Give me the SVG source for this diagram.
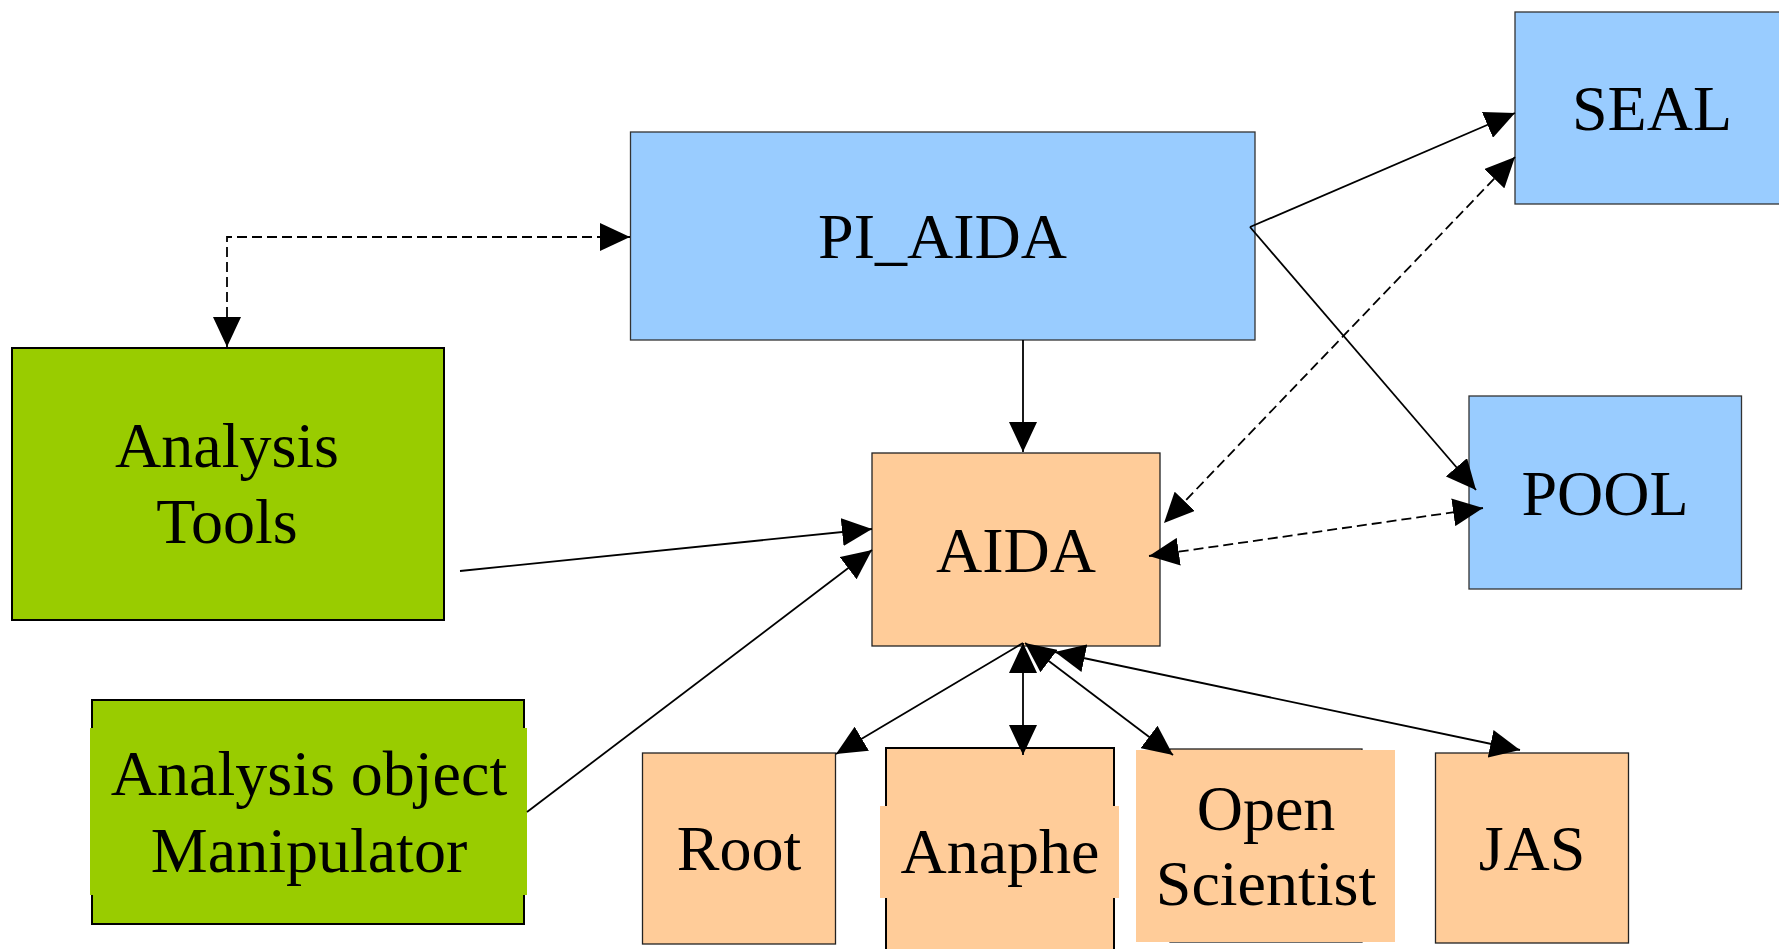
<svg xmlns="http://www.w3.org/2000/svg" width="1779" height="949" viewBox="0 0 1779 949">
<style>
.blue{fill:#99ccff;stroke:#333;stroke-width:1.3}
.green{fill:#99cc00;stroke:#000;stroke-width:2}
.orange{fill:#ffcc99;stroke:#222;stroke-width:1.3}
.bgG{fill:#99cc00;stroke:none}
.bgO{fill:#ffcc99;stroke:none}
text{font-family:"Liberation Serif","Times New Roman",serif;font-size:64px;fill:#000;text-anchor:middle}
.c{fill:none;stroke:#000;stroke-width:1.8}
.d{stroke-dasharray:10 5}
</style>
<defs>
<marker id="ah" viewBox="0 0 30 28" refX="30" refY="14" markerWidth="30" markerHeight="28" markerUnits="userSpaceOnUse" orient="auto-start-reverse">
<path d="M0,0 L30,14 L0,28 z" fill="#000"/>
</marker>
</defs>
<rect width="1779" height="949" fill="#fff"/>
<g id="pi_aida">
<rect class="blue" x="630.5" y="132" width="624.5" height="208"/>
<text x="942.5" y="258">PI_AIDA</text>
</g>
<g id="seal">
<rect class="blue" x="1515" y="12" width="274" height="192"/>
<text x="1652" y="130">SEAL</text>
</g>
<g id="pool">
<rect class="blue" x="1469" y="396" width="272.5" height="193"/>
<text x="1605" y="515">POOL</text>
</g>
<g id="aida">
<rect class="orange" x="872" y="453" width="288" height="193"/>
<text x="1016" y="572">AIDA</text>
</g>
<g id="analysis_tools">
<rect class="green" x="12" y="348" width="432" height="272"/>
<text x="227" y="467">Analysis</text>
<text x="227" y="543">Tools</text>
</g>
<g id="manipulator">
<rect class="green" x="92" y="700" width="432" height="224"/>
<rect class="bgG" x="90" y="728" width="437" height="167"/>
<text x="309" y="795">Analysis object</text>
<text x="309" y="872">Manipulator</text>
</g>
<g id="root">
<rect class="orange" x="642.5" y="753" width="193" height="191"/>
<text x="739" y="870">Root</text>
</g>
<g id="anaphe">
<rect class="orange" x="886" y="748" width="228" height="215" style="stroke:#000;stroke-width:2"/>
<rect class="bgO" x="880" y="806" width="239" height="92"/>
<text x="1000" y="873">Anaphe</text>
</g>
<g id="open_scientist">
<rect class="orange" x="1170" y="749" width="192" height="193"/>
<rect class="bgO" x="1136" y="750" width="259" height="192"/>
<text x="1266" y="830">Open</text>
<text x="1266" y="905">Scientist</text>
</g>
<g id="jas">
<rect class="orange" x="1435.5" y="753" width="193" height="190"/>
<text x="1532" y="870">JAS</text>
</g>
<g id="connectors">
<path class="c d" d="M227,347 L227,237 L630,237" marker-start="url(#ah)" marker-end="url(#ah)"/>
<path class="c" d="M1023,340 L1023,452" marker-end="url(#ah)"/>
<path class="c" d="M1250,227 L1515,113" marker-end="url(#ah)"/>
<path class="c" d="M1250,227 L1476,490" marker-end="url(#ah)"/>
<path class="c d" d="M1515,157 L1164,523" marker-start="url(#ah)" marker-end="url(#ah)"/>
<path class="c d" d="M1149,556 L1483,508" marker-start="url(#ah)" marker-end="url(#ah)"/>
<path class="c" d="M460,571 L872,529" marker-end="url(#ah)"/>
<path class="c" d="M527,812 L872,550" marker-end="url(#ah)"/>
<path class="c" d="M1023,643 L836,754" marker-end="url(#ah)"/>
<path class="c" d="M1023,643 L1023,755" marker-start="url(#ah)" marker-end="url(#ah)"/>
<path class="c" d="M1025,643 L1173,755" marker-start="url(#ah)" marker-end="url(#ah)"/>
<path class="c" d="M1055,652 L1520,750" marker-start="url(#ah)" marker-end="url(#ah)"/>
</g>
</svg>
